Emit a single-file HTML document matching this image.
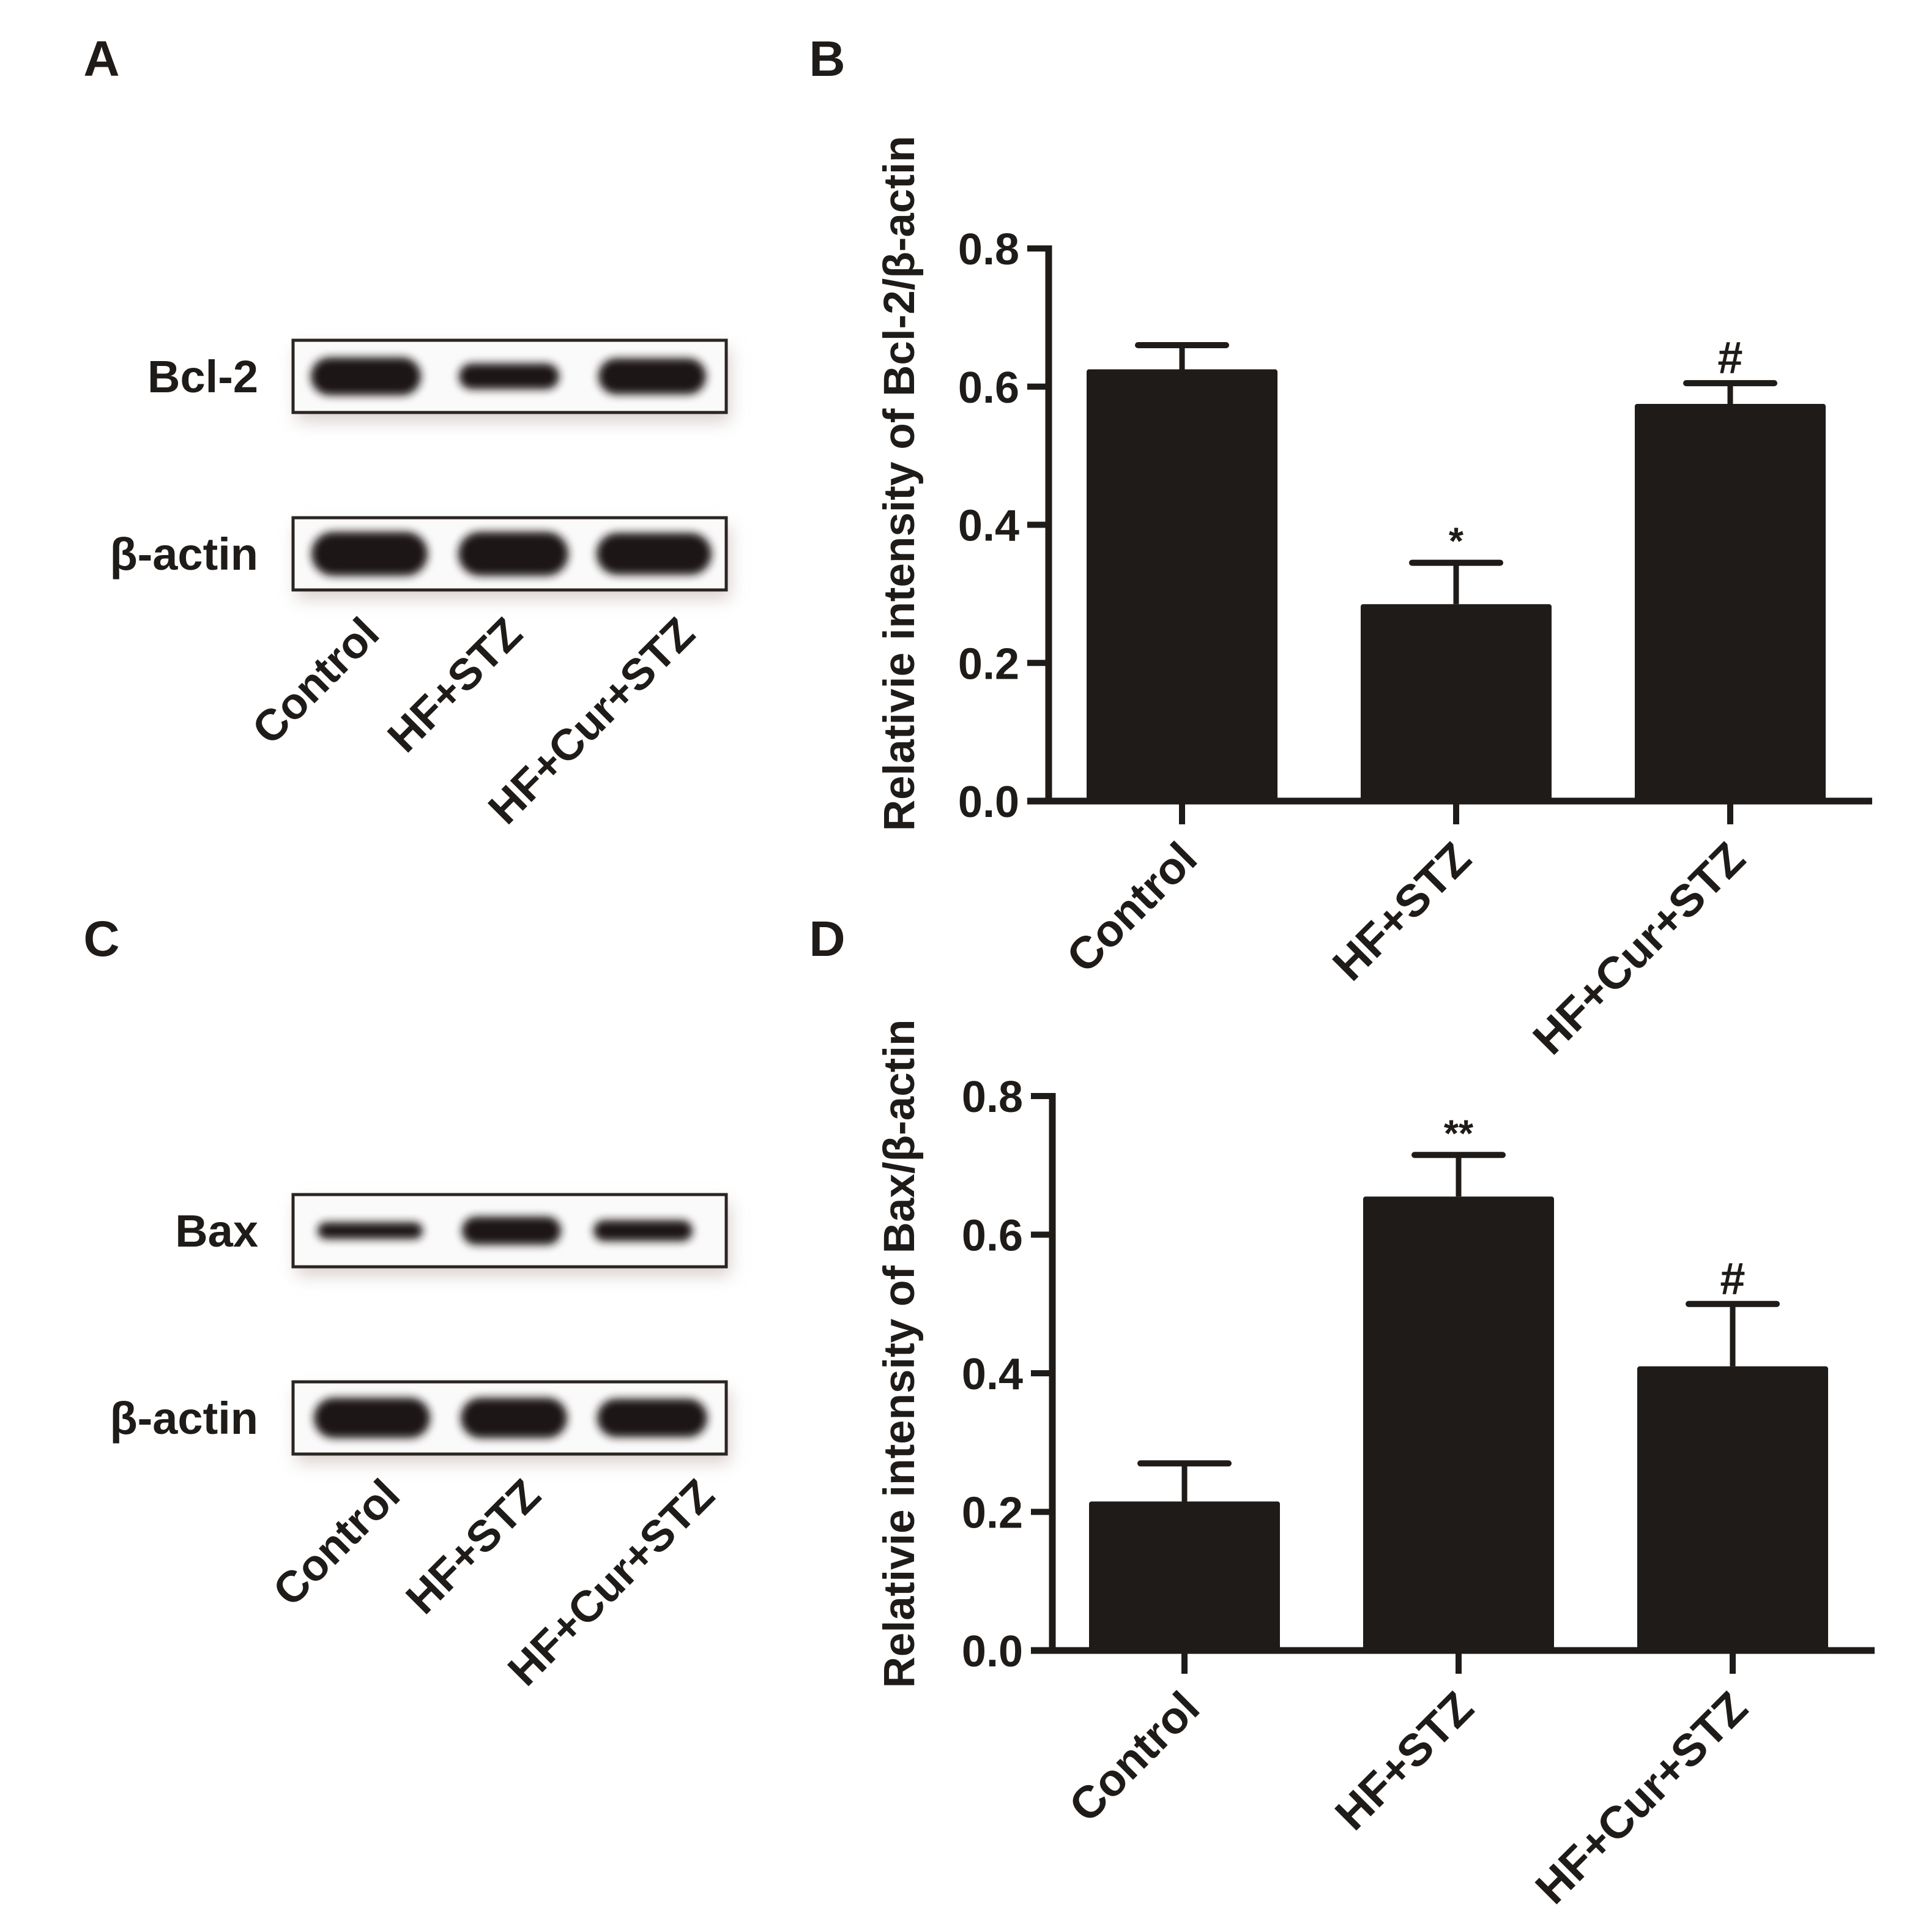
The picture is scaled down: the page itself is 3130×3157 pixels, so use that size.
<!DOCTYPE html>
<html><head><meta charset="utf-8"><style>
html,body{margin:0;padding:0;background:#fff}
svg{display:block}
text{font-family:"Liberation Sans",Arial,sans-serif;font-weight:bold;fill:#1e1b18}
</style></head><body>
<svg id="fig" width="3130" height="3157" viewBox="0 0 3130 3157" xmlns="http://www.w3.org/2000/svg">
<defs>
<filter id="blur" x="-20%" y="-50%" width="140%" height="200%"><feGaussianBlur stdDeviation="7"/></filter>
<filter id="shadow" x="-10%" y="-40%" width="120%" height="200%"><feGaussianBlur stdDeviation="14"/></filter>
</defs>
<text x="166" y="124" font-size="82" text-anchor="middle">A</text>
<text x="1352" y="124" font-size="82" text-anchor="middle">B</text>
<text x="166" y="1562" font-size="82" text-anchor="middle">C</text>
<text x="1352" y="1562" font-size="82" text-anchor="middle">D</text>
<g id="blots"></g>
<g id="chartB"></g>
<g id="chartD"></g>
</svg>
<script>
const NS="http://www.w3.org/2000/svg";
const categories=["Control","HF+STZ","HF+Cur+STZ"];
const bMeans=[0.625,0.285,0.575];
const bErrs=[0.035,0.06,0.03];
const bMarks=["","*","#"];
const dMeans=[0.215,0.655,0.41];
const dErrs=[0.055,0.06,0.09];
const dMarks=["","**","#"];
const yTicks=[0,0.2,0.4,0.6,0.8];
const yTickLabels=["0.0","0.2","0.4","0.6","0.8"];
const bcl2Band=[1.0,0.68,0.95];
const baxBand=[0.6,1.0,0.75];
const actinBand=[1.0,1.0,0.95];

function el(tag,attrs,parent){const e=document.createElementNS(NS,tag);for(const k in attrs)e.setAttribute(k,attrs[k]);parent.appendChild(e);return e;}

function chart(g,opts){
  const {axisX,y0,y8,xEnd,barStart,means,errs,marks,title,prefix,titleY}=opts;
  const yScale=v=>y0-(v/0.8)*(y0-y8);
  const barW=312, step=448;
  const xBand=i=>barStart+i*step;
  const col="#1e1b18";
  means.forEach((m,i)=>{
    const x=xBand(i), cx=x+barW/2;
    const top=yScale(m+errs[i]);
    const ev=el('line',{x1:cx,x2:cx,y1:yScale(m),y2:top,stroke:col,'stroke-width':9},g);
    
    
    const cap=el('line',{x1:cx-72,x2:cx+72,y1:top,y2:top,stroke:col,'stroke-width':10,'stroke-linecap':'round'},g);
    
    
    const r=el('rect',{x:x,y:yScale(m),width:barW,height:y0-yScale(m),fill:col,rx:4},g);
    
    
    if(marks[i]){
      const t=el('text',{x:cx,y:top-(marks[i]=="#"?16:14),'font-size':marks[i]=="#"?74:62,'text-anchor':'middle'},g);
      t.textContent=marks[i];
      
      
    }
    const tk=el('line',{x1:cx,x2:cx,y1:y0,y2:y0+38,stroke:col,'stroke-width':10},g);
    
    
    const lx=cx-8, ly=y0+62;
    const lab=el('text',{x:lx,y:ly,'font-size':74,'text-anchor':'end',transform:`rotate(-45 ${lx} ${ly})`,dy:'0.7em'},g);
    lab.textContent=categories[i];
    
    
  });
  const ya=el('line',{x1:axisX,x2:axisX,y1:y8-5,y2:y0+5,stroke:col,'stroke-width':11},g);
  
  
  const xa=el('line',{x1:axisX-35,x2:xEnd,y1:y0,y2:y0,stroke:col,'stroke-width':11},g);
  
  
  yTicks.forEach((v,i)=>{
    const y=yScale(v);
    const t=el('line',{x1:axisX-35,x2:axisX,y1:y,y2:y,stroke:col,'stroke-width':10},g);
    
    
    const l=el('text',{x:axisX-48,y:y+26,'font-size':72,'text-anchor':'end'},g);
    l.textContent=yTickLabels[i];
    
    
  });
  const tx=1494, ty=titleY;
  const tt=el('text',{x:tx,y:ty,'font-size':71,'text-anchor':'middle',transform:`rotate(-90 ${tx} ${ty})`},g);
  tt.textContent=title;
  
  
}
chart(document.getElementById('chartB'),{axisX:1714,y0:1309,y8:406,xEnd:3060,barStart:1776,means:bMeans,errs:bErrs,marks:bMarks,title:"Relativie intensity of Bcl-2/β-actin",prefix:'b',titleY:790});
chart(document.getElementById('chartD'),{axisX:1720,y0:2697,y8:1791,xEnd:3064,barStart:1780,means:dMeans,errs:dErrs,marks:dMarks,title:"Relativie intensity of Bax/β-actin",prefix:'d',titleY:2212});

function blot(g,y,label,bands,name,hscale,centers,widths){
  const x0=479,w=708,h=118;
  const sh=el('rect',{x:x0+6,y:y+14,width:w,height:h,fill:'#d8cfcc',filter:'url(#shadow)'},g);
  
  
  const bx=el('rect',{x:x0,y:y,width:w,height:h,fill:'#fbfafa',stroke:'#2a2522','stroke-width':5},g);
  
  
  bands.forEach((s,i)=>{
    const bh=hscale*s;
    const b=el('rect',{x:centers[i]-widths[i]/2,y:y+h/2-bh/2,width:widths[i],height:bh,rx:bh/2,fill:'#1a1614',filter:'url(#blur)'},g);
    
    
  });
  const t=el('text',{x:422,y:y+h/2+26,'font-size':74,'text-anchor':'end'},g);
  t.textContent=label;
  
  
}
function laneLabels(g,yBase,xs,name){
  categories.forEach((c,i)=>{
    const t=el('text',{x:xs[i],y:yBase,'font-size':72,'text-anchor':'end',transform:`rotate(-45 ${xs[i]} ${yBase})`,dy:'0.7em'},g);
    t.textContent=c;
    
    
  });
}
const bg=document.getElementById('blots');
blot(bg,556,"Bcl-2",bcl2Band,'bcl2-blot',62,[598,832,1066],[180,164,176]);
blot(bg,846,"β-actin",actinBand,'actin-blot-a',72,[604,839,1069],[190,180,188]);
laneLabels(bg,1004,[588,822,1104],'blot-a');
blot(bg,1952,"Bax",baxBand,'bax-blot',46,[605,836,1051],[172,162,162]);
blot(bg,2258,"β-actin",actinBand,'actin-blot-c',66,[608,840,1066],[190,174,180]);
laneLabels(bg,2412,[622,852,1136],'blot-c');
</script>
</body></html>
